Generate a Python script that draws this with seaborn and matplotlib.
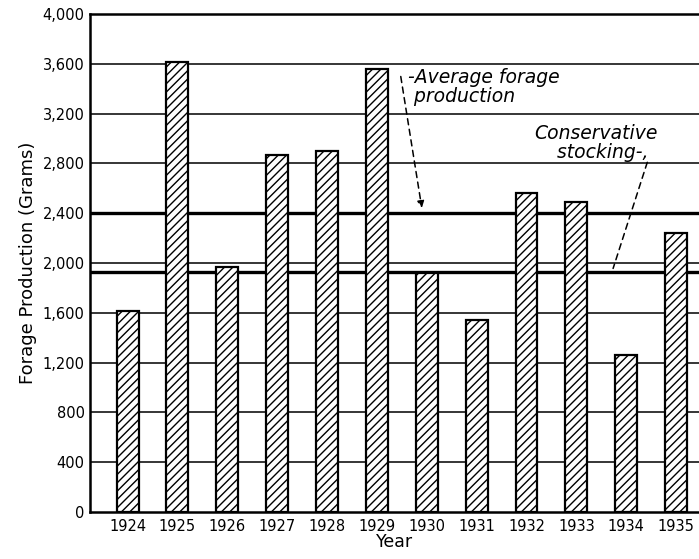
import matplotlib
matplotlib.use("Agg")
import matplotlib.pyplot as plt
import seaborn as sns
import pandas as pd

# data
years = ["1924", "1925", "1926", "1927", "1928", "1929",
         "1930", "1931", "1932", "1933", "1934", "1935"]
forage = [1615, 3615, 1965, 2865, 2900, 3560,
          1920, 1545, 2560, 2490, 1265, 2240]
average_forage = 2400
conservative_stocking = 1925
y_ticks = [0, 400, 800, 1200, 1600, 2000, 2400, 2800, 3200, 3600, 4000]

df = pd.DataFrame({"Year": years, "Forage": forage})

sns.set_style("white")
plt.rcParams["font.family"] = ["DejaVu Sans"]
plt.rcParams["hatch.linewidth"] = 1.0
plt.rcParams["text.color"] = "black"
plt.rcParams["axes.labelcolor"] = "black"
plt.rcParams["xtick.color"] = "black"
plt.rcParams["ytick.color"] = "black"

fig = plt.figure(figsize=(6.99, 5.59), dpi=100)
ax = fig.add_axes([0.129, 0.084, 0.871, 0.891])

# grid lines behind bars
for t in y_ticks[1:]:
    ax.axhline(t, color="black", linewidth=1.1, zorder=0)

sns.barplot(data=df, x="Year", y="Forage", color="white", edgecolor="black",
            linewidth=1.6, width=0.44, ax=ax, zorder=2)
for p in ax.patches:
    p.set_hatch("////")

# reference lines
ax.axhline(average_forage, color="black", linewidth=2.4, zorder=1)
ax.axhline(conservative_stocking, color="black", linewidth=2.4, zorder=1)

ax.set_ylim(0, 4000)
ax.set_xlim(-0.75, 11.46)
ax.set_yticks(y_ticks)
ax.set_yticklabels([f"{t:,}" for t in y_ticks], fontsize=10.5)
ax.tick_params(axis="x", labelsize=10.5, length=0, pad=5)
ax.tick_params(axis="y", length=0, pad=4)

for side in ["left", "top", "bottom"]:
    ax.spines[side].set_linewidth(1.8)
    ax.spines[side].set_color("black")
ax.spines["right"].set_visible(False)

ax.set_xlabel("Year", fontsize=12.5, labelpad=-1)
ax.set_ylabel("Forage Production (Grams)", fontsize=13, labelpad=4)

# annotations
ax.annotate("", xy=(5.91, average_forage + 20), xytext=(5.47, 3520),
            arrowprops=dict(arrowstyle="-|>", linestyle=(0, (4, 3)),
                            color="black", lw=1.1), zorder=3)
ax.text(5.62, 3410, "-Average forage\n production", fontsize=13.5,
        style="italic", va="center", ha="left", linespacing=1.0)
ax.annotate("", xy=(9.72, conservative_stocking + 10), xytext=(10.44, 2830),
            arrowprops=dict(arrowstyle="-", linestyle=(0, (4, 3)),
                            color="black", lw=1.1), zorder=3)
ax.text(9.4, 2960, "Conservative\n  stocking-,", fontsize=13.5,
        style="italic", va="center", ha="center", linespacing=1.0)

plt.savefig("out.png", dpi=100)
